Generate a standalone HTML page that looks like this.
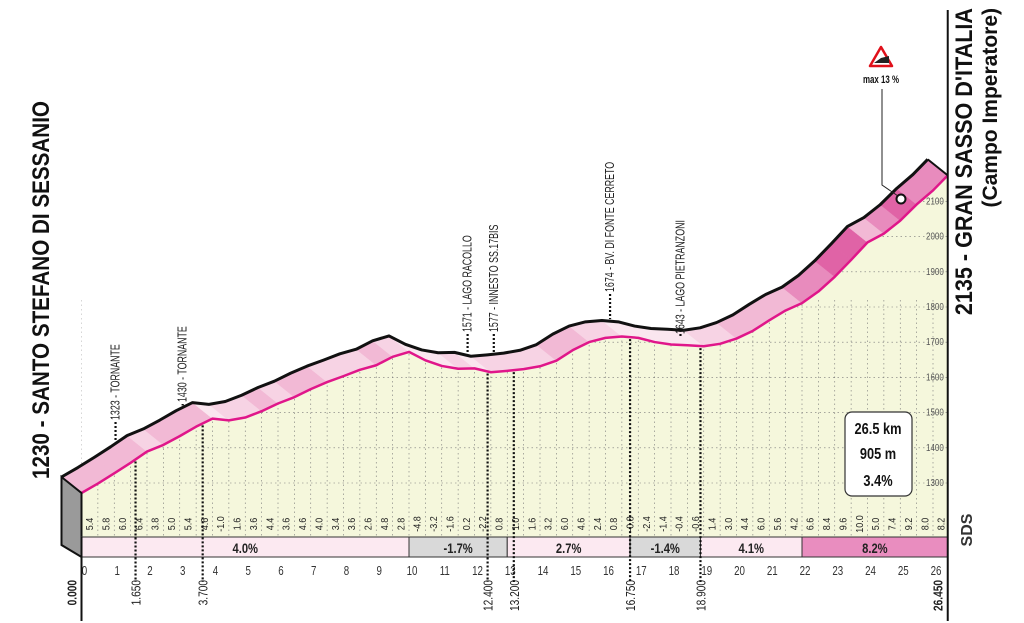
<!DOCTYPE html>
<html><head><meta charset="utf-8"><style>
html,body{margin:0;padding:0;background:#fff;}
svg{display:block;font-family:"Liberation Sans Narrow","Liberation Sans",sans-serif;}
</style></head><body>
<svg id="c" width="1024" height="623" viewBox="0 0 1024 623"></svg>
<script>
const kmStep = 0.5;
const gradients = [5.4,5.8,6.0,6.4,3.8,5.0,5.4,4.6,-1.0,1.6,3.6,4.4,3.6,4.6,4.0,3.4,3.6,2.6,4.8,2.8,
 -4.8,-3.2,-1.6,0.2,-2.2,0.8,1.0,1.6,3.2,6.0,4.6,2.4,0.8,-0.8,-2.4,-1.4,-0.4,-0.6,1.4,3.0,4.4,6.0,5.6,4.2,
 6.6,8.4,9.6,10.0,5.0,7.4,9.2,8.0,8.2];
const distances = [0,0.5,1,1.5,2,2.5,3,3.5,4,4.5,5,5.5,6,6.5,7,7.5,8,8.5,9,9.5,10,10.5,11,11.5,12,12.5,13,13.5,14,14.5,15,15.5,16,16.5,17,17.5,18,18.5,19,19.5,20,20.5,21,21.5,22,22.5,23,23.5,24,24.5,25,25.5,26,26.45];
const elevations = [1230,1257,1286,1316,1348,1367,1392,1419,1442,1437,1445,1463,1485,1503,1526,1546,1563,1581,1594,1618,1632,1608,1592,1584,1585,1574,1578,1583,1591,1607,1637,1660,1672,1676,1672,1660,1653,1651,1648,1655,1670,1692,1722,1750,1771,1804,1846,1894,1944,1969,2006,2052,2092,2135];
const sectorStarts = [0,10,13,16.75,18.9,22];
const sectorEnds = [10,13,16.75,18.9,22,26.45];
const sectorLabels = ["4.0%","-1.7%","2.7%","-1.4%","4.1%","8.2%"];
const elevTicks = [1300,1400,1500,1600,1700,1800,1900,2000,2100];
const kmTicks = [0,1,2,3,4,5,6,7,8,9,10,11,12,13,14,15,16,17,18,19,20,21,22,23,24,25,26];
const wpKm = [1.65,3.7,12.4,13.2,16.75,18.9];
const wpLabels = ["1323 - TORNANTE","1430 - TORNANTE","1571 - LAGO RACOLLO","1577 - INNESTO SS.17BIS","1674 - BV. DI FONTE CERRETO","1643 - LAGO PIETRANZONI"];
const wpLabelBottom = [420,402,332,332,292,334];
const markKm = ["0.000","1.650","3.700","12.400","13.200","16.750","18.900","26.450"];

const NS="http://www.w3.org/2000/svg";
const svgRoot=document.getElementById('c');
const X=k=>81.5+k*32.75;
const Y=e=>493-(e-1230)*0.351;
const GY=v=>483-(v-1300)*0.352;
const DX=-20, DY=-16;
function mk(t,a,p){const e=document.createElementNS(NS,t);for(const k in a)e.setAttribute(k,a[k]);(p||svgRoot).appendChild(e);return e;}
function txt(s,a,p){const e=mk('text',a,p);e.textContent=s;return e;}

const profPts=distances.map((d,i)=>X(d)+','+Y(elevations[i])).join(' ');
const fillPoly=mk('polygon',{points:X(0)+',537 '+profPts+' '+X(26.45)+',537',fill:'#f5f7dc'});



for(let i=0;i<=52;i++){const x=X(i*0.5);const e=mk('line',{x1:x,x2:x,y1:300,y2:537,stroke:'#777','stroke-width':0.6,'stroke-dasharray':'1.5 3'});

}
elevTicks.forEach(v=>{const e=mk('line',{x1:X(0),x2:X(26.45),y1:GY(v),y2:GY(v),stroke:'#777','stroke-width':0.6,'stroke-dasharray':'1.5 3'});


const t=txt(v,{x:0,y:0,'font-size':10,fill:'#555',transform:`translate(926,${GY(v)+3}) scale(0.8,1)`});

});
const skyPoly=mk('polygon',{points:X(0)+',0 '+profPts+' '+X(26.45)+',0',fill:'#fff'});



function bandColor(g){if(g>=9)return '#e063a6';if(g>=6.5)return '#e88bbd';if(g>=4)return '#f2b9d5';if(g>=0)return '#f7d3e4';return '#fae6ef';}
for(let i=0;i<distances.length-1;i++){
 const x1=X(distances[i]),y1=Y(elevations[i]),x2=X(distances[i+1]),y2=Y(elevations[i+1]);
 const q=mk('polygon',{points:`${x1},${y1} ${x2},${y2} ${x2+DX},${y2+DY} ${x1+DX},${y1+DY}`,fill:bandColor(gradients[i]),stroke:bandColor(gradients[i]),'stroke-width':0.5});
 
 
}
const topPts=distances.map((d,i)=>(X(d)+DX)+','+(Y(elevations[i])+DY)).join(' ');
const tl=mk('polyline',{points:topPts,fill:'none',stroke:'#111','stroke-width':3,'stroke-linejoin':'round'});


const pl=mk('polyline',{points:profPts,fill:'none',stroke:'#e0168a','stroke-width':2.5,'stroke-linejoin':'round'});


const sf=mk('polygon',{points:`${X(0)+DX},${Y(1230)+DY} ${X(0)},${Y(1230)} ${X(0)},557 ${X(0)+DX},545`,fill:'#9a9a9a',stroke:'#111','stroke-width':2});


mk('line',{x1:X(26.45)+DX,y1:Y(2135)+DY,x2:X(26.45),y2:Y(2135),stroke:'#111','stroke-width':2});

gradients.forEach((g,i)=>{const x=X(distances[i]+0.25);
 const t=txt(g.toFixed(1),{x:0,y:0,'font-size':10,fill:'#222','text-anchor':'middle',transform:`translate(${x+3.5},524) rotate(-90) scale(0.9,1)`});
 
 });

sectorStarts.forEach((s,i)=>{const x1=X(s),x2=X(sectorEnds[i]);
 const col=sectorLabels[i].startsWith('-')?'#d9d9d9':(i==5?'#e98dbf':'#fce9f1');
 const r=mk('rect',{x:x1,y:537,width:x2-x1,height:20,fill:col,stroke:'#333','stroke-width':1});
 
 
 const t=txt(sectorLabels[i],{x:0,y:0,'font-size':14,'font-weight':'bold','text-anchor':'middle',fill:'#222',transform:`translate(${(x1+x2)/2},553) scale(0.8,1)`});
 
 });

kmTicks.forEach(k=>{const t=txt(k,{x:0,y:0,'font-size':13,'text-anchor':'middle',fill:'#333',transform:`translate(${X(k)+3},575) scale(0.75,1)`});
 
 });
markKm.forEach((s,i)=>{const x=X(parseFloat(s));
 const off=(i==0||i==markKm.length-1)?-5:5;
 const t=txt(s,{x:0,y:0,'font-size':13,'text-anchor':'end',fill:'#222','font-weight':(i==0||i==markKm.length-1)?'bold':'normal',transform:`translate(${x+off},580) rotate(-90) scale(0.78,1)`});
 
 });

mk('line',{x1:X(0),y1:537,x2:X(0),y2:621,stroke:'#111','stroke-width':2});
mk('line',{x1:X(26.45),y1:10,x2:X(26.45),y2:621,stroke:'#111','stroke-width':2});

wpKm.forEach((k,i)=>{
 const x=X(k);let j=0;while(distances[j+1]<k)j++;
 const e=elevations[j]+(elevations[j+1]-elevations[j])*(k-distances[j])/(distances[j+1]-distances[j]);
 const l1=mk('line',{x1:x+DX,x2:x+DX,y1:wpLabelBottom[i]+2,y2:Y(e)+DY-2,stroke:'#111','stroke-width':2.2,'stroke-dasharray':'2 2'});
 
 
 const l2=mk('line',{x1:x,x2:x,y1:Y(e)+2,y2:582,stroke:'#111','stroke-width':2.2,'stroke-dasharray':'2 2'});
 
 
 const t=txt(wpLabels[i],{x:0,y:0,'font-size':13,fill:'#222',transform:`translate(${x+DX+4},${wpLabelBottom[i]}) rotate(-90) scale(0.68,1)`});
 
 
});

const t1=txt("1230 - SANTO STEFANO DI SESSANIO",{x:0,y:0,'font-size':24,'font-weight':'bold',fill:'#111','text-anchor':'middle',transform:'translate(49,290) rotate(-90) scale(0.86,1)'});


const t2=txt("2135 - GRAN SASSO D'ITALIA",{x:0,y:0,'font-size':24,'font-weight':'bold',fill:'#111','text-anchor':'end',transform:'translate(972,8) rotate(-90) scale(0.9,1)',style:'font-family:Liberation Sans,sans-serif'});


const t3=txt("(Campo Imperatore)",{x:0,y:0,'font-size':21,'font-weight':'bold',fill:'#111','text-anchor':'end',transform:'translate(997,8) rotate(-90)',style:'font-family:Liberation Sans,sans-serif'});



const box=mk('g',{});


mk('rect',{x:845,y:412,width:67,height:84,rx:7,fill:'#fff',stroke:'#333','stroke-width':1.2},box);
txt("26.5 km",{x:0,y:0,'font-size':16,'font-weight':'bold','text-anchor':'middle',fill:'#111',transform:'translate(878,434) scale(0.8,1)'},box);
txt("905 m",{x:0,y:0,'font-size':16,'font-weight':'bold','text-anchor':'middle',fill:'#111',transform:'translate(878,459) scale(0.8,1)'},box);
txt("3.4%",{x:0,y:0,'font-size':16,'font-weight':'bold','text-anchor':'middle',fill:'#111',transform:'translate(878,486) scale(0.8,1)'},box);

const mx=mk('g',{});


mk('polygon',{points:'881,47 870,66 892,66',fill:'#fff',stroke:'#e0101a','stroke-width':2.5,'stroke-linejoin':'round'},mx);
mk('polygon',{points:'874,63 889,63 889,56 881,58',fill:'#222'},mx);
txt("max 13 %",{x:0,y:0,'font-size':11,'font-weight':'bold','text-anchor':'middle',fill:'#111',transform:'translate(881,83) scale(0.72,1)'},mx);
mk('polyline',{points:'882,89 882,185 898,196',fill:'none',stroke:'#222','stroke-width':1},mx);
mk('circle',{cx:901,cy:199,r:4.5,fill:'#fff',stroke:'#111','stroke-width':2},mx);

const logo=txt("SDS",{x:0,y:0,'font-size':16,'font-weight':'bold',fill:'#333','text-anchor':'middle',transform:'translate(972,530) rotate(-90)',style:'font-family:Liberation Sans,sans-serif'});


</script>
</body></html>
